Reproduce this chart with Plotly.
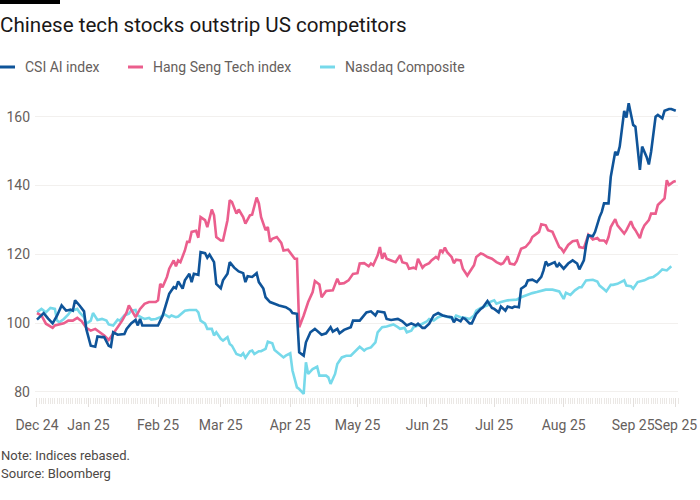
import pandas as pd
import plotly.graph_objects as go

# ---------------- data ----------------
start_date = "2024-12-09"

csi_day = [0, 3, 5, 7, 9, 11, 13, 15, 16, 17, 19, 21, 22, 24, 26, 27, 29, 30, 32, 33, 34, 36, 39, 40,
           42, 44, 45, 46, 47, 49, 51, 54, 56, 57, 58, 59, 61, 62, 63, 65, 66, 68, 69, 70, 72, 73, 75,
           76, 77, 79, 80, 82, 83, 85, 86, 88, 90, 92, 93, 94, 96, 98, 99, 101, 102, 104, 106, 108,
           111, 113, 114, 116, 117, 119, 120, 122, 124, 126, 127, 129, 131, 132, 134, 135, 137, 140,
           141, 144, 146, 147, 149, 151, 152, 155, 156, 158, 161, 163, 165, 167, 169, 170, 172, 173,
           175, 177, 179, 181, 183, 185, 186, 187, 189, 190, 191, 193, 194, 196, 198, 199, 201, 203,
           204, 206, 207, 209, 210, 212, 213, 215, 216, 218, 219, 221, 223, 225, 226, 227, 228, 230,
           231, 232, 233, 235, 237, 239, 241, 242, 244, 245, 246, 248, 249, 251, 252, 253, 255, 256,
           258, 259, 260, 262, 263, 264, 266, 267, 269, 270, 272, 273, 274, 276, 277, 279, 280, 282,
           283, 285]
csi_val = [101.0, 102.9, 101.3, 99.9, 102.2, 105.1, 103.6, 103.9, 103.6, 106.6, 105.1, 103.4, 98.3,
           93.4, 93.1, 96.1, 95.9, 95.9, 93.4, 93.1, 97.3, 96.6, 96.8, 98.3, 99.9, 100.9, 99.3, 101.2,
           99.3, 99.3, 99.3, 99.3, 102.0, 104.0, 106.6, 108.5, 110.4, 110.1, 112.1, 110.0, 112.4,
           114.3, 111.9, 114.3, 114.0, 120.6, 120.3, 119.0, 119.9, 117.7, 111.4, 110.1, 112.4, 114.3,
           117.7, 116.1, 115.0, 114.5, 111.9, 113.6, 113.4, 114.5, 111.9, 110.0, 107.5, 106.1, 105.6,
           105.1, 104.6, 103.8, 102.9, 102.7, 91.5, 90.5, 94.4, 97.3, 98.3, 97.0, 96.6, 97.0, 98.8,
           97.5, 98.3, 97.0, 98.0, 98.8, 100.7, 100.7, 102.2, 103.1, 103.4, 102.2, 103.4, 103.1,
           101.2, 100.9, 101.2, 100.5, 99.3, 99.9, 99.3, 99.8, 98.6, 98.6, 99.8, 102.2, 102.9, 102.2,
           101.9, 101.7, 100.2, 101.2, 100.5, 101.5, 101.2, 99.9, 99.9, 102.7, 104.1, 104.6, 106.4,
           104.4, 104.1, 103.1, 104.8, 103.6, 104.8, 104.4, 104.8, 104.6, 110.0, 110.9, 112.4, 112.6,
           111.9, 113.4, 115.3, 117.9, 116.8, 117.3, 117.7, 116.3, 117.3, 115.8, 117.3, 118.2, 117.3,
           115.6, 118.2, 122.6, 125.5, 125.2, 126.5, 130.8, 132.3, 134.8, 134.8, 142.5, 149.8, 148.8,
           151.3, 161.7, 159.7, 163.9, 157.6, 157.1, 144.5, 151.3, 148.3, 146.1, 149.8, 160.0, 160.5,
           159.5, 161.7, 162.2, 162.2, 161.7]

hst_day = [0, 2, 4, 7, 8, 10, 12, 14, 16, 18, 20, 22, 24, 26, 28, 30, 32, 34, 36, 38, 40, 41, 43, 44,
           46, 48, 50, 53, 54, 55, 56, 58, 59, 61, 62, 63, 64, 66, 67, 68, 69, 71, 72, 73, 75, 76, 78,
           79, 80, 82, 83, 85, 86, 87, 89, 90, 92, 93, 95, 96, 98, 99, 100, 102, 103, 104, 105, 107,
           109, 110, 112, 114, 115, 116, 117, 119, 121, 123, 124, 126, 127, 129, 131, 132, 134, 135,
           137, 139, 141, 143, 144, 146, 148, 149, 150, 152, 153, 154, 155, 156, 158, 160, 162, 163,
           165, 166, 168, 169, 170, 172, 173, 175, 176, 178, 179, 180, 181, 182, 183, 185, 186, 187,
           189, 190, 192, 193, 195, 196, 198, 199, 201, 203, 205, 207, 208, 210, 211, 213, 214, 216,
           218, 220, 221, 223, 224, 225, 227, 228, 230, 231, 233, 234, 235, 237, 239, 241, 242, 244,
           245, 246, 248, 250, 251, 253, 254, 255, 256, 258, 259, 261, 262, 263, 265, 266, 267, 269,
           270, 271, 273, 274, 276, 277, 279, 280, 281, 282, 284, 285]
hst_val = [102.9, 102.2, 99.8, 98.6, 99.3, 99.6, 99.9, 100.7, 100.7, 101.5, 100.5, 98.6, 97.8, 98.3,
           97.3, 96.4, 95.1, 96.8, 98.8, 100.7, 103.1, 105.1, 103.1, 101.7, 104.1, 105.6, 106.1,
           106.1, 106.6, 111.4, 110.4, 113.4, 115.8, 118.2, 116.5, 118.2, 117.7, 121.1, 123.6, 123.6,
           126.5, 126.8, 124.8, 130.8, 129.9, 127.9, 133.0, 131.3, 125.0, 124.0, 124.0, 129.9, 135.7,
           135.2, 131.8, 133.0, 130.8, 128.9, 131.3, 131.5, 136.5, 134.8, 130.8, 127.0, 127.9, 123.6,
           124.5, 125.0, 123.3, 121.1, 121.3, 119.7, 118.7, 118.7, 98.8, 102.2, 106.1, 109.0, 112.2,
           111.2, 107.5, 109.3, 109.5, 109.5, 112.9, 111.4, 111.6, 112.4, 114.3, 114.5, 117.3, 117.4,
           116.5, 117.3, 116.8, 119.7, 122.1, 118.7, 120.4, 118.7, 118.2, 117.7, 119.7, 117.7, 117.3,
           115.8, 116.1, 115.8, 118.7, 116.1, 116.8, 117.4, 118.2, 119.2, 118.7, 121.3, 120.6, 121.9,
           120.6, 119.2, 117.4, 118.4, 118.2, 115.8, 113.8, 114.8, 116.8, 119.2, 120.2, 120.0, 119.2,
           118.7, 117.7, 117.1, 117.4, 119.4, 117.3, 117.0, 118.0, 121.6, 122.1, 123.6, 125.0, 126.0,
           126.5, 128.7, 128.4, 127.0, 126.5, 125.0, 122.1, 121.6, 120.6, 122.7, 123.8, 124.0, 122.1,
           121.8, 124.0, 125.7, 124.3, 124.7, 124.0, 124.0, 123.3, 125.0, 127.9, 130.2, 128.4, 127.0,
           126.0, 127.0, 129.6, 127.9, 127.0, 124.7, 127.0, 128.4, 129.9, 131.8, 131.8, 134.3, 135.4,
           136.2, 141.5, 140.1, 141.1, 141.3]

ndq_day = [0, 2, 4, 6, 8, 9, 10, 12, 14, 15, 18, 19, 21, 22, 24, 25, 27, 29, 31, 32, 34, 36, 37, 39,
           41, 42, 44, 45, 47, 48, 50, 51, 53, 55, 57, 59, 60, 62, 63, 65, 66, 68, 71, 72, 73, 75, 76,
           78, 79, 80, 82, 83, 85, 86, 87, 89, 91, 92, 93, 95, 96, 97, 99, 100, 102, 103, 105, 106,
           108, 110, 111, 113, 114, 116, 117, 119, 120, 121, 123, 125, 126, 129, 130, 131, 133, 134,
           136, 138, 140, 142, 144, 146, 147, 149, 151, 152, 154, 156, 158, 159, 161, 162, 164, 165,
           167, 168, 170, 171, 172, 174, 175, 177, 179, 181, 184, 186, 187, 189, 191, 193, 195, 196,
           198, 201, 202, 204, 205, 207, 210, 212, 214, 216, 219, 221, 223, 225, 227, 230, 231, 233,
           235, 236, 238, 240, 242, 243, 245, 248, 250, 251, 253, 254, 256, 257, 259, 262, 263, 265,
           266, 268, 271, 273, 275, 277, 279, 281, 283]
ndq_val = [103.1, 104.1, 103.1, 104.4, 104.1, 100.7, 100.2, 101.2, 102.5, 103.4, 104.1, 103.1, 101.7,
           99.8, 100.7, 102.9, 100.9, 101.2, 100.7, 99.6, 99.3, 101.0, 100.7, 102.2, 102.7, 103.6,
           103.8, 102.2, 101.5, 101.2, 101.5, 101.0, 101.2, 101.7, 102.5, 101.7, 102.2, 101.7, 101.9,
           103.1, 103.6, 103.8, 103.8, 103.1, 100.7, 99.8, 98.3, 98.3, 96.4, 97.3, 95.4, 94.9, 95.9,
           93.9, 93.4, 91.0, 90.5, 91.2, 89.9, 91.8, 92.0, 91.0, 91.8, 91.8, 92.5, 94.6, 94.1, 92.2,
           91.0, 90.0, 90.5, 91.2, 86.2, 81.3, 80.8, 79.4, 88.6, 85.2, 86.6, 87.3, 84.7, 84.7, 84.2,
           82.3, 85.2, 88.1, 90.0, 90.5, 90.5, 91.8, 93.1, 92.0, 92.5, 92.9, 94.4, 97.3, 98.8, 99.0,
           99.3, 99.6, 98.8, 98.3, 98.6, 97.3, 97.8, 98.8, 99.3, 99.5, 99.8, 100.5, 101.2, 100.7,
           101.7, 102.2, 101.5, 101.2, 102.2, 101.7, 101.5, 101.2, 102.2, 103.6, 104.4, 105.1, 106.1,
           106.6, 105.6, 106.1, 106.6, 106.8, 106.8, 107.5, 108.3, 108.7, 109.0, 109.3, 109.7, 109.7,
           109.5, 109.2, 107.0, 108.8, 108.2, 109.5, 110.4, 110.4, 112.4, 112.6, 112.1, 110.9, 109.8,
           109.2, 111.1, 111.1, 111.4, 112.4, 110.9, 110.7, 110.0, 111.9, 112.4, 113.1, 113.4, 114.3,
           115.6, 115.3, 116.5]

series_names = ["CSI AI index", "Hang Seng Tech index", "Nasdaq Composite"]
series_colors = ["#0f5499", "#eb5e8d", "#76d9ea"]

tick_dates = ["2024-12-09", "2025-01-01", "2025-02-01", "2025-03-01", "2025-04-01", "2025-05-01",
              "2025-06-01", "2025-07-01", "2025-08-01", "2025-09-01", "2025-09-20"]
tick_labels = ["Dec 24", "Jan 25", "Feb 25", "Mar 25", "Apr 25", "May 25", "Jun 25", "Jul 25",
               "Aug 25", "Sep 25", "Sep 25"]
y_ticks = [80, 100, 120, 140, 160]

title_text = "Chinese tech stocks outstrip US competitors"
note_text = "Note: Indices rebased."
source_text = "Source: Bloomberg"

# ---------------- figure ----------------
FONT = "Roboto"
GREY = "#66605c"

start = pd.Timestamp(start_date)


def to_dates(days):
    return start + pd.to_timedelta(days, unit="D")


fig = go.Figure()
traces = [(ndq_day, ndq_val, 2), (hst_day, hst_val, 1), (csi_day, csi_val, 0)]
for days, vals, k in traces:
    fig.add_trace(go.Scatter(
        x=to_dates(days), y=vals, mode="lines", name=series_names[k],
        line=dict(color=series_colors[k], width=2.6), showlegend=False,
        hoverinfo="skip"))

x_lo = start - pd.Timedelta(hours=21)
x_hi = start + pd.Timedelta(days=286)

L, T, W, H = 35, 96, 643, 301


def px(x):
    return (x - L) / W


def py(y):
    return 1 - (y - T) / H


fig.update_layout(
    width=700, height=500,
    margin=dict(l=L, r=700 - L - W, t=T, b=500 - T - H),
    paper_bgcolor="white", plot_bgcolor="white",
    font=dict(family=FONT, color=GREY, size=14),
    title=dict(text=title_text, x=0, xref="container", xanchor="left",
               y=1 - 25 / 500, yref="container", yanchor="middle",
               font=dict(family=FONT, size=20.6, color="#1a1817")),
    xaxis=dict(type="date", range=[x_lo, x_hi], tickmode="array",
               tickvals=tick_dates, ticktext=tick_labels, showgrid=False,
               zeroline=False, showline=False, ticks="outside", ticklen=9,
               tickcolor="#e3dfdc", tickwidth=1, ticklabelstandoff=6,
               tickangle=0, automargin=False,
               tickfont=dict(size=14, color=GREY),
               minor=dict(ticks="outside", ticklen=6, tickcolor="#ebe8e5",
                          dtick=86400000, tick0=start_date, showgrid=False)),
    yaxis=dict(range=[78.5, 166], tickmode="array", tickvals=y_ticks,
               showgrid=True, gridcolor="#f2f0ee", gridwidth=1, zeroline=False,
               showline=False, ticks="", ticklabelstandoff=4, automargin=False,
               tickfont=dict(size=14, color=GREY)),
)

# black brand bar at top-left
fig.add_shape(type="rect", xref="paper", yref="paper",
              x0=px(0), x1=px(60), y0=py(4), y1=py(0),
              fillcolor="black", line_width=0)

# custom legend (swatch + label)
legend_x = [0, 128, 320]
for k, name in enumerate(series_names):
    x0 = legend_x[k]
    fig.add_shape(type="line", xref="paper", yref="paper",
                  x0=px(x0), x1=px(x0 + 15), y0=py(67), y1=py(67),
                  line=dict(color=series_colors[k], width=3))
    fig.add_annotation(text=name, xref="paper", yref="paper",
                       x=px(x0 + 23), y=py(67),
                       xanchor="left", yanchor="middle", showarrow=False,
                       font=dict(family=FONT, size=14, color=GREY))

fig.add_annotation(text=note_text, xref="paper", yref="paper", x=px(-1),
                   y=py(455), xanchor="left", yanchor="middle",
                   showarrow=False, font=dict(family=FONT, size=13, color="#4d4845"))
fig.add_annotation(text=source_text, xref="paper", yref="paper", x=px(-1),
                   y=py(473), xanchor="left", yanchor="middle",
                   showarrow=False, font=dict(family=FONT, size=13, color="#4d4845"))

fig.write_html("out.html")
